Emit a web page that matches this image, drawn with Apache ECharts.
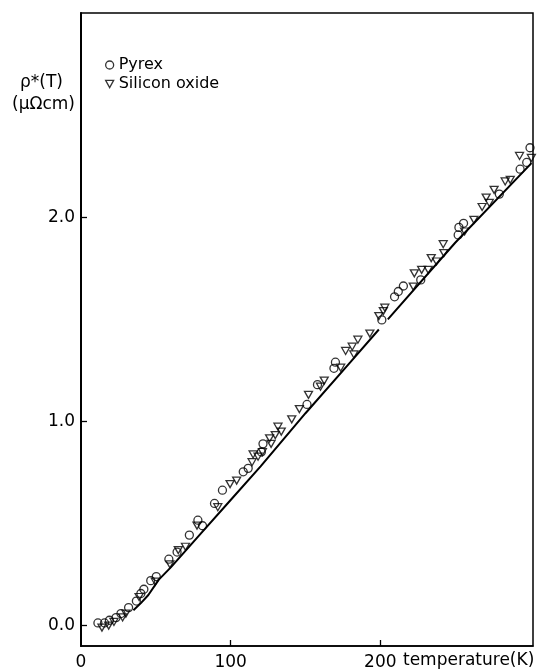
<!DOCTYPE html>
<html>
<head>
<meta charset="utf-8">
<script src="https://cdn.jsdelivr.net/npm/echarts@6/dist/echarts.min.js"></script>
<style>html,body{margin:0;padding:0;background:#fff}#c{width:558px;height:671px}</style>
</head>
<body>
<div id="c"></div>
<script>
// Pyrex (open circles)
var pyrexT   = [11.3,15.7,19,23.4,26.7,31.8,37,40,42,46.6,50.3,58.7,64.2,72.4,78.1,81.2,89.2,94.5,108.4,111.7,120.5,121.6,151,158,169,170,201,209.5,212,215.4,227,252,252.5,255.6,279.5,293.4,297.8,300];
var pyrexRho = [0.013,0.013,0.026,0.039,0.059,0.088,0.12,0.157,0.178,0.22,0.24,0.325,0.36,0.443,0.516,0.489,0.598,0.663,0.753,0.77,0.85,0.89,1.083,1.18,1.26,1.29,1.497,1.61,1.636,1.663,1.693,1.913,1.95,1.97,2.113,2.235,2.268,2.34];
// Silicon oxide (open down triangles)
var siliconT   = [14,18.5,22,27.8,30,38.8,49.6,59.4,65,69.8,77.5,91.4,99.6,104,114.3,115,118.3,121.2,126,127,129.8,131.6,133.8,140.8,145.9,152,160,162.5,173.5,176.8,181.2,182.3,185,193,199,202,203,222,222.7,227.6,232,234,237.5,242,242.4,256.3,262.5,268,270.7,272.8,276,283.4,286.8,293,300.9];
var siliconRho = [-0.01,0.0,0.018,0.04,0.059,0.14,0.215,0.30,0.37,0.386,0.49,0.58,0.693,0.71,0.80,0.838,0.827,0.85,0.917,0.89,0.933,0.974,0.95,1.01,1.06,1.13,1.17,1.20,1.263,1.345,1.366,1.328,1.40,1.43,1.516,1.54,1.557,1.66,1.725,1.742,1.742,1.80,1.783,1.868,1.824,1.93,1.987,2.05,2.096,2.07,2.134,2.175,2.183,2.30,2.29];
// Fitted curve (null = break in the line)
var curveT   = [35,40,45,52,60,80,100,120,150,180,199,null,205,250,301];
var curveRho = [0.075,0.11,0.15,0.225,0.285,0.45,0.615,0.78,1.04,1.29,1.45,null,1.50,1.875,2.265];
// Axis ticks
var xTicks = [100,200];
var xLabels = [0,100,200];
var yTicks = [0,1,2];

function pairs(a,b){return a.map(function(v,i){return v===null?[null,null]:[v,b[i]];});}
var FONT = 'DejaVu Sans';
var TRI = 'path://M0,0 L10,0 L5,9 Z';
var chart = echarts.init(document.getElementById('c'));
chart.setOption({
  animation:false,
  backgroundColor:'#fff',
  grid:{left:81,top:13,width:452,height:634,show:true,borderColor:'#000',borderWidth:1.5,backgroundColor:'transparent'},
  xAxis:{type:'value',min:0,max:302,
    axisLine:{show:true,onZero:false,lineStyle:{color:'#000',width:1.5}},
    axisTick:{show:true,inside:true,length:6,customValues:xTicks,lineStyle:{color:'#000',width:1.3}},
    axisLabel:{customValues:xLabels,color:'#000',fontFamily:FONT,fontSize:17,margin:8},
    splitLine:{show:false}},
  yAxis:{type:'value',min:-0.1,max:3.0,
    axisLine:{show:true,onZero:false,lineStyle:{color:'#000',width:2}},
    axisTick:{show:true,inside:true,length:6,customValues:yTicks,lineStyle:{color:'#000',width:1.3}},
    axisLabel:{customValues:yTicks,color:'#000',fontFamily:FONT,fontSize:17,margin:6,formatter:function(v){return v.toFixed(1);}},
    splitLine:{show:false}},
  legend:{orient:'vertical',left:100,top:52,itemGap:3,itemWidth:8,itemHeight:8,
    data:[{name:'Pyrex',icon:'circle'},{name:'Silicon oxide',icon:TRI}],
    itemStyle:{color:'rgba(255,255,255,0)',borderColor:'#000',borderWidth:1.3},
    textStyle:{color:'#000',fontFamily:FONT,fontSize:16}},
  graphic:[
    {type:'text',left:20,top:74,style:{text:'ρ*(T)',fill:'#000',font:'17px '+FONT}},
    {type:'text',left:12,top:96,style:{text:'(μΩcm)',fill:'#000',font:'17px '+FONT}},
    {type:'text',left:403,top:652,style:{text:'temperature(K)',fill:'#000',font:'17px '+FONT}}
  ],
  series:[
    {name:'fit',type:'line',data:pairs(curveT,curveRho),showSymbol:false,connectNulls:false,smooth:false,
      lineStyle:{color:'#000',width:2},z:2},
    {name:'Pyrex',type:'scatter',data:pairs(pyrexT,pyrexRho),symbol:'circle',symbolSize:8,
      itemStyle:{color:'rgba(255,255,255,0)',borderColor:'#000',borderWidth:1.3},z:3},
    {name:'Silicon oxide',type:'scatter',data:pairs(siliconT,siliconRho),symbol:TRI,symbolSize:[8,7],
      itemStyle:{color:'rgba(255,255,255,0)',borderColor:'#000',borderWidth:1.3},z:3}
  ]
});
</script>
</body>
</html>
